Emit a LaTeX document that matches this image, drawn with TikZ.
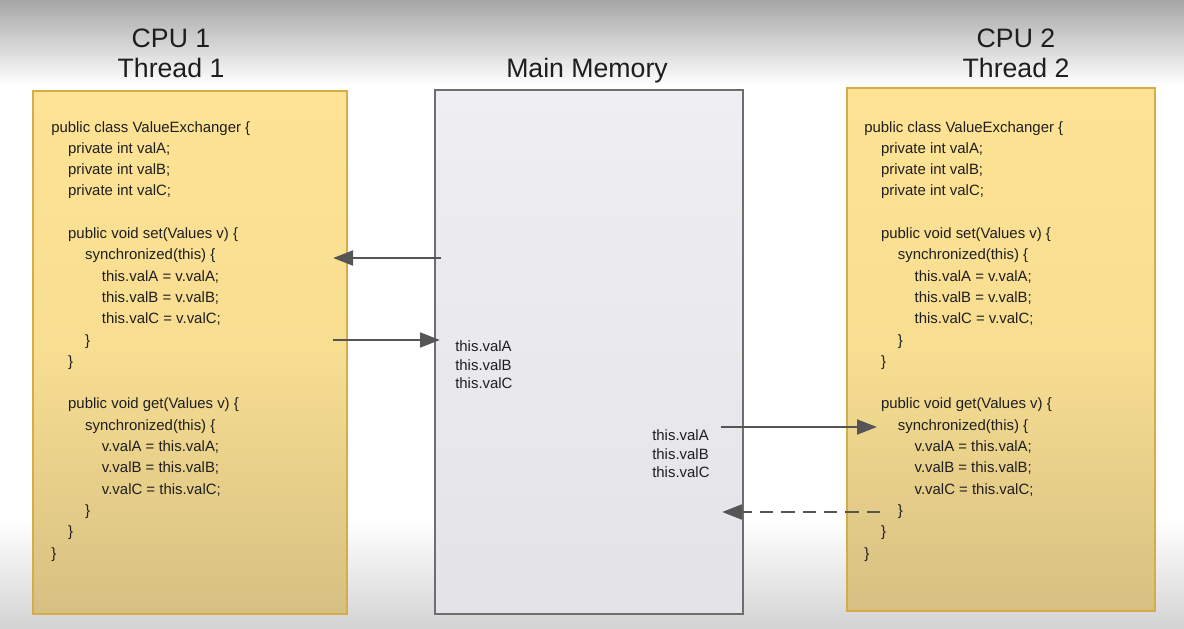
\documentclass[tikz,border=0pt]{standalone}
\usepackage{fontspec}
\setmainfont{Liberation Sans}
\usetikzlibrary{arrows.meta}
\definecolor{boxtop}{RGB}{254,227,148}
\definecolor{boxbot}{RGB}{214,192,130}
\definecolor{boxedge}{RGB}{214,172,72}
\definecolor{memfill}{RGB}{239,239,243}
\definecolor{memfillb}{RGB}{228,228,232}
\definecolor{memedge}{RGB}{110,110,110}
\definecolor{arrowc}{RGB}{85,85,85}
\definecolor{txt}{RGB}{30,30,30}
\begin{document}
\begin{tikzpicture}[x=0.75pt,y=-0.75pt,
  code/.style={anchor=base west, inner sep=0pt, text=txt, font=\fontsize{11.2}{13}\selectfont},
  title/.style={anchor=base, inner sep=0pt, text=txt, font=\fontsize{20}{24}\selectfont},
  cpubox/.style={draw=boxedge, line width=1pt, top color=boxtop, bottom color=boxbot, middle color=boxtop!85!boxbot, inner sep=0pt},
  membox/.style={draw=memedge, line width=1pt, top color=memfill, bottom color=memfillb, inner sep=0pt},
  flow/.style={draw=arrowc, line width=2.2pt, -{Triangle[length=15pt,width=11pt]}},
  dflow/.style={flow, dash pattern=on 10pt off 6pt}
]
\useasboundingbox (0,0) rectangle (1184,628);
% background
\fill[white] (0,0) rectangle (1184,628);
\shade[top color=black!35, bottom color=white] (0,0) rectangle (1184,85);
\shade[top color=white, bottom color=black!17] (0,520) rectangle (1184,628);

% boxes
\node[cpubox, minimum width=314*0.75pt, minimum height=523*0.75pt] (cpu1) at (190,352.5) {};
\node[membox, minimum width=308*0.75pt, minimum height=524*0.75pt] (mem) at (589,352) {};
\node[cpubox, minimum width=308*0.75pt, minimum height=523*0.75pt] (cpu2) at (1001,349.5) {};

% titles
\node[title] (t1a) at (171,47.5) {CPU 1};
\node[title] (t1b) at (171,77.5) {Thread 1};
\node[title] (tm) at (587,77.5) {Main Memory};
\node[title] (t2a) at (1016,47.5) {CPU 2};
\node[title] (t2b) at (1016,77.5) {Thread 2};

% code
\foreach \ln/\lvl/\txt in {
  0/0/public class ValueExchanger \{,
  1/1/private int valA;,
  2/1/private int valB;,
  3/1/private int valC;,
  5/1/public void set(Values v) \{,
  6/2/synchronized(this) \{,
  7/3/this.valA = v.valA;,
  8/3/this.valB = v.valB;,
  9/3/this.valC = v.valC;,
  10/2/\},
  11/1/\},
  13/1/public void get(Values v) \{,
  14/2/synchronized(this) \{,
  15/3/v.valA = this.valA;,
  16/3/v.valB = this.valB;,
  17/3/v.valC = this.valC;,
  18/2/\},
  19/1/\},
  20/0/\}}{
  \node[code] (L\ln) at (51+16.9*\lvl, 132+21.3*\ln) {\txt};
  \node[code] (R\ln) at (864+16.8*\lvl, 132+21.3*\ln) {\txt};
}

% memory contents
\node[code] (ma) at (455,351.5) {this.valA};
\node[code] (mb) at (455,370) {this.valB};
\node[code] (mc) at (455,388.5) {this.valC};
\node[code] (na) at (652,440.5) {this.valA};
\node[code] (nb) at (652,459) {this.valB};
\node[code] (nc) at (652,477.5) {this.valC};

% arrow end points
\coordinate (a1s) at (441,258);
\coordinate (a1e) at (333,258);
\coordinate (a2s) at (333,340);
\coordinate (a2e) at (440,340);
\coordinate (a3s) at (721,427);
\coordinate (a3e) at (877,427);
\coordinate (a4s) at (880,512);
\coordinate (a4e) at (722,512);

\draw[flow] (a1s) -- (a1e);
\draw[flow] (a2s) -- (a2e);
\draw[flow] (a3s) -- (a3e);
\draw[dflow] (a4s) -- (a4e);
\end{tikzpicture}
\end{document}
